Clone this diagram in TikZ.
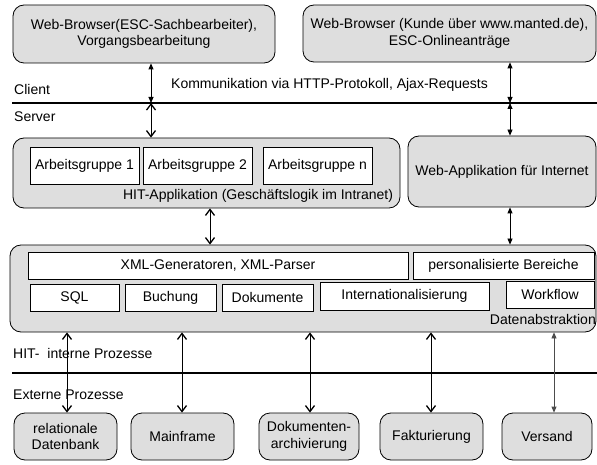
\documentclass[tikz,border=0pt]{standalone}
\usepackage{fontspec}
\setmainfont{Liberation Sans}
\usetikzlibrary{arrows.meta}
\definecolor{boxgray}{RGB}{222,222,222}
\begin{document}
\begin{tikzpicture}[x=1pt,y=-1pt,
  every node/.style={font=\fontsize{14}{16.5}\selectfont, inner sep=0pt},
  outerbox/.style={draw, line width=0.8pt, fill=boxgray, rounded corners=11pt, align=center},
  innerbox/.style={draw, line width=0.8pt, fill=white, align=center},
  lbl/.style={anchor=west},
  sep/.style={line width=1.8pt},
  vtip/.style={{Straight Barb[length=6pt,width=9pt,line width=1.3pt]}-{Straight Barb[length=6pt,width=9pt,line width=1.3pt]}, line width=0.8pt},
  ftip/.style={{Triangle[length=6pt,width=5pt]}-{Triangle[length=6pt,width=5pt]}, line width=0.8pt}
]
\useasboundingbox (0,0) rectangle (597,465);

% client side
\node[outerbox, minimum width=262, minimum height=58] (topL) at (144,34)
  {Web-Browser(ESC-Sachbearbeiter),\\Vorgangsbearbeitung};
\node[outerbox, minimum width=293, minimum height=57] (topR) at (449.5,33.5)
  {Web-Browser (Kunde über www.manted.de),\\ESC-Onlineanträge};

% client / server separator
\coordinate (sepA) at (12,103);
\coordinate (sepB) at (597,103);
\draw[sep] (sepA) -- (sepB);
\node[lbl] (client) at (14,89) {Client};
\node[lbl] (server) at (14,117) {Server};
\node[lbl] (komm) at (171,85) {Kommunikation via HTTP-Protokoll, Ajax-Requests};

% application layer
\node[outerbox, minimum width=387, minimum height=70] (hit) at (206.5,173) {};
\node[innerbox, minimum width=109, minimum height=37] (ag1) at (84.5,165.5) {Arbeitsgruppe 1};
\node[innerbox, minimum width=109, minimum height=37] (ag2) at (197.5,165.5) {Arbeitsgruppe 2};
\node[innerbox, minimum width=109, minimum height=37] (agn) at (317.5,165.5) {Arbeitsgruppe n};
\node (hitlbl) at (258,195.5) {HIT-Applikation (Geschäftslogik im Intranet)};
\node[outerbox, minimum width=188, minimum height=71] (webapp) at (502,171.5)
  {Web-Applikation für Internet};

% data abstraction layer
\node[outerbox, minimum width=586, minimum height=87] (base) at (303,288.5) {};
\node[innerbox, minimum width=380, minimum height=27] (xml) at (218,265.5) {XML-Generatoren, XML-Parser};
\node[innerbox, minimum width=181, minimum height=27] (pers) at (503.5,265.5) {personalisierte Bereiche};
\node[innerbox, minimum width=89, minimum height=27] (sql) at (74.5,297.5) {SQL};
\node[innerbox, minimum width=91, minimum height=27] (buch) at (170.5,297.5) {Buchung};
\node[innerbox, minimum width=91, minimum height=27] (doku) at (267.5,297.5) {Dokumente};
\node[innerbox, minimum width=169, minimum height=28] (intl) at (404.5,296) {Internationalisierung};
\node[innerbox, minimum width=88, minimum height=27] (wf) at (550,294.5) {Workflow};
\node[anchor=east] (dabs) at (596,319.5) {Datenabstraktion};

% internal / external separator
\coordinate (sepC) at (12,373);
\coordinate (sepD) at (597,373);
\draw[sep] (sepC) -- (sepD);
\node[lbl] (intern) at (13,353) {HIT-\ \ interne Prozesse};
\node[lbl] (extern) at (13,395) {Externe Prozesse};

% external systems
\node[outerbox, minimum width=103, minimum height=47] (rdb) at (65.5,436.5) {relationale\\Datenbank};
\node[outerbox, minimum width=103, minimum height=47] (mf) at (182.5,436.5) {Mainframe};
\node[outerbox, minimum width=100, minimum height=47] (arch) at (309,436.5) {Dokumenten-\\archivierung};
\node[outerbox, minimum width=103, minimum height=47] (fakt) at (431.5,436.5) {Fakturierung};
\node[outerbox, minimum width=90, minimum height=47] (vers) at (547,436.5) {Versand};

% crossing points on the separators
\coordinate (xL) at (151,103);
\coordinate (xR) at (510,103);

% connectors
\draw[ftip] (topL.south -| xL) -- (xL);
\draw[vtip] (xL) -- (hit.north -| xL);
\draw[ftip] (topR.south -| xR) -- (xR);
\draw[ftip] (xR) -- (webapp.north -| xR);
\coordinate (hb) at (210,208);
\draw[vtip] (hit.south -| hb) -- (base.north -| hb);
\draw[ftip] (webapp.south -| xR) -- (base.north -| xR);

\coordinate (e1) at (67,0);
\coordinate (e2) at (182,0);
\coordinate (e3) at (310,0);
\coordinate (e4) at (431,0);
\coordinate (e5) at (554,0);
\draw[vtip] (base.south -| e1) -- (rdb.north -| e1);
\draw[vtip] (base.south -| e2) -- (mf.north -| e2);
\draw[vtip] (base.south -| e3) -- (arch.north -| e3);
\draw[vtip] (base.south -| e4) -- (fakt.north -| e4);
\draw[ftip, draw=black!70] (base.south -| e5) -- (vers.north -| e5);
\end{tikzpicture}
\end{document}
